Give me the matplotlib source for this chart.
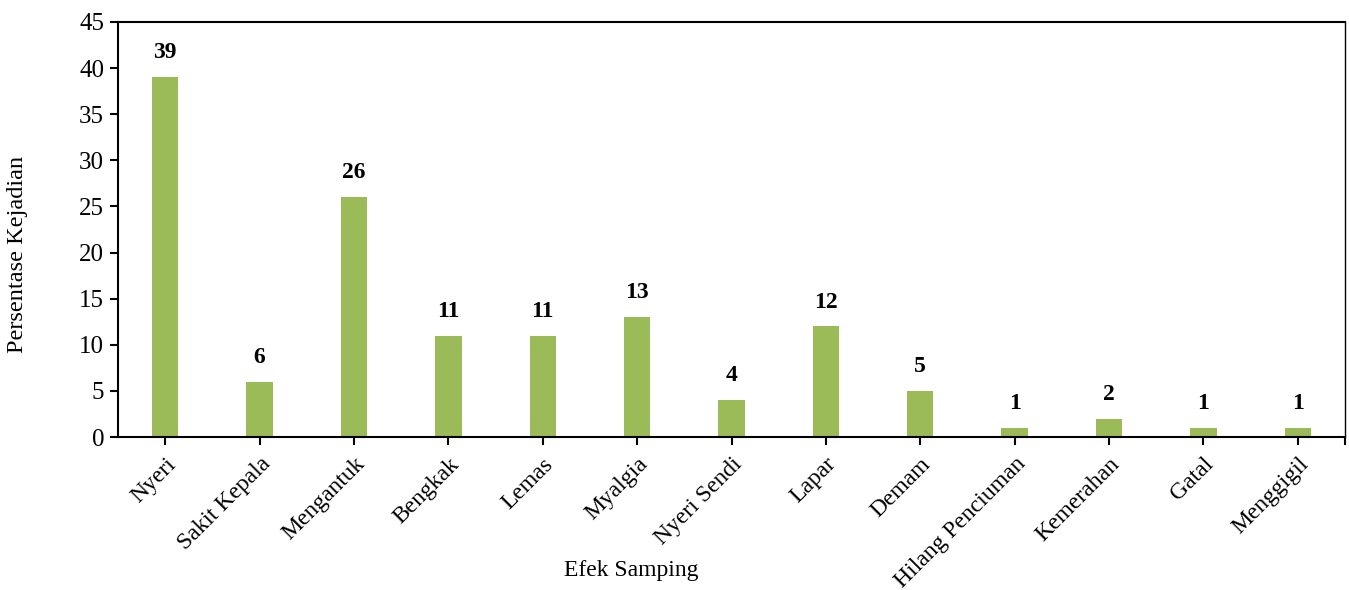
import matplotlib
matplotlib.use("Agg")
import matplotlib.pyplot as plt

categories = ["Nyeri", "Sakit Kepala", "Mengantuk", "Bengkak", "Lemas", "Myalgia",
              "Nyeri Sendi", "Lapar", "Demam", "Hilang Penciuman", "Kemerahan", "Gatal", "Menggigil"]
values = [39, 6, 26, 11, 11, 13, 4, 12, 5, 1, 2, 1, 1]
yticks = [0, 5, 10, 15, 20, 25, 30, 35, 40, 45]

plt.rcParams['font.family'] = ['Liberation Serif', 'DejaVu Serif']

fig = plt.figure(figsize=(13.49, 5.90), dpi=100)
ax = fig.add_axes([118/1349, 1-437/590, (1345-118)/1349, (437-22)/590])

x = list(range(len(categories)))
bars = ax.bar(x, values, width=0.28, color="#9BBB59")
for xi, v in zip(x, values):
    ax.text(xi, v + 1.5, str(v), ha="center", va="bottom", fontsize=17, fontweight="bold")

ax.set_xlim(-0.5, len(categories) - 0.5)
ax.set_ylim(0, 45)
ax.set_yticks(yticks)
ax.set_xticks(x)
ax.set_xticklabels(categories, rotation=45, ha="right", rotation_mode="anchor", fontsize=17)
ax.set_xticks([len(categories) - 0.5], minor=True)
ax.tick_params(axis="y", labelsize=18, direction="out", length=6, width=1.5, pad=4)
ax.tick_params(axis="x", which="both", direction="out", length=6, width=1.5, pad=6)
for s in ax.spines.values():
    s.set_linewidth(1.5)
ax.spines["right"].set_linewidth(1.0)

ax.set_ylabel("Persentase Kejadian", fontsize=17.5)
ax.yaxis.set_label_coords(-0.073, 0.44)
ax.set_xlabel("Efek Samping", fontsize=17)
ax.xaxis.set_label_coords(0.418, -0.297)

fig.savefig("out.png", dpi=100)
